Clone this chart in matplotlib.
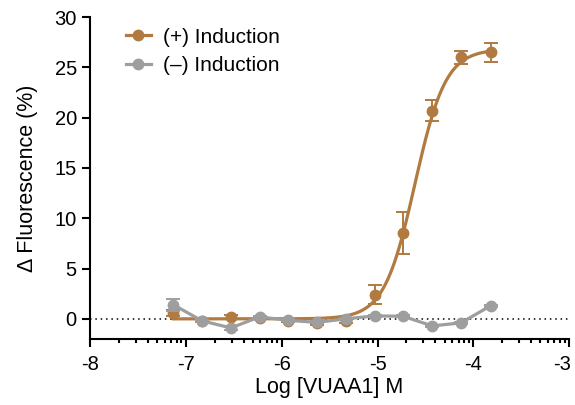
import numpy as np
import matplotlib
matplotlib.use("Agg")
import matplotlib.pyplot as plt
import matplotlib.transforms as mtransforms
from matplotlib.ticker import FixedLocator

plt.rcParams['font.family'] = ['Liberation Sans', 'DejaVu Sans']
plt.rcParams['axes.unicode_minus'] = False

# data
log_conc = [-7.13, -6.83, -6.53, -6.23, -5.93, -5.63, -5.33, -5.03, -4.73, -4.43, -4.13, -3.82]
plus_mean = [0.6, -0.25, 0.2, 0.1, -0.2, -0.45, -0.25, 2.4, 8.5, 20.7, 26.0, 26.5]
plus_err = [0.3, 0.1, 0.2, 0.1, 0.1, 0.2, 0.2, 0.95, 2.1, 1.05, 0.65, 0.95]
minus_mean = [1.4, -0.2, -0.9, 0.2, -0.15, -0.35, 0.0, 0.3, 0.25, -0.7, -0.4, 1.3]
minus_err = [0.6, 0.1, 0.2, 0.1, 0.1, 0.1, 0.1, 0.1, 0.1, 0.1, 0.1, 0.1]

# fitted Hill curve parameters
fit_bottom = 0.0
fit_top = 26.8
fit_logec50 = -4.61
fit_hill = 2.7

orange = '#B07A40'
gray = '#9E9E9E'

fig = plt.figure(figsize=(5.75, 4.05), dpi=100)
ax = fig.add_axes([0.1565, 0.163, 0.8335, 0.795])

xs = np.linspace(log_conc[0], log_conc[-1], 300)
fit = fit_bottom + (fit_top - fit_bottom) / (1 + 10 ** ((fit_logec50 - xs) * fit_hill))

ax.axhline(0, color='black', linestyle=(0, (1, 2.5)), linewidth=1.1, zorder=1)

ax.plot(xs, fit, color=orange, linewidth=2.3, zorder=2)
ax.errorbar(log_conc, plus_mean, yerr=plus_err, fmt='o', color=orange, markersize=7.5,
            elinewidth=1.4, capsize=5, capthick=1.4, zorder=3)
ax.errorbar(log_conc, minus_mean, yerr=minus_err, fmt='-o', color=gray, markersize=7.5,
            linewidth=2.3, elinewidth=1.4, capsize=5, capthick=1.4, zorder=4)

# legend proxies
ax.plot([], [], '-o', color=orange, markersize=7.5, linewidth=2.3, label='(+) Induction')
ax.plot([], [], '-o', color=gray, markersize=7.5, linewidth=2.3, label='(\u2013) Induction')
h, l = ax.get_legend_handles_labels()
ax.legend(h[-2:], l[-2:], loc='upper left', bbox_to_anchor=(0.035, 1.025), frameon=False,
          fontsize=15, handlelength=1.2, handletextpad=0.6, labelspacing=0.45)

ax.set_xlim(-8, -3)
ax.set_ylim(-2, 30)
ax.set_yticks([0, 5, 10, 15, 20, 25, 30])
ax.set_xticks([-8, -7, -6, -5, -4, -3])
minors = [d + np.log10(k) for d in range(-8, -3) for k in range(2, 10)]
ax.xaxis.set_minor_locator(FixedLocator(minors))

for side in ['top', 'right']:
    ax.spines[side].set_visible(False)
for side in ['left', 'bottom']:
    ax.spines[side].set_linewidth(1.5)

ax.tick_params(axis='both', which='major', direction='out', length=5.5, width=1.5, labelsize=14.5)
ax.tick_params(axis='x', which='major', pad=6)
ax.tick_params(axis='y', which='major', pad=4)
ax.tick_params(axis='x', which='minor', direction='out', length=3.2, width=1.5)

# keep the last x label inside the figure
last = ax.get_xticklabels()[-1]
last.set_transform(last.get_transform() + mtransforms.ScaledTranslation(-5 / 72, 0, fig.dpi_scale_trans))

ax.set_xlabel('Log [VUAA1] M', fontsize=15.5, labelpad=2)
ax.set_ylabel('\u0394 Fluorescence (%)', fontsize=15.5, labelpad=12)

fig.savefig('out.png', dpi=100)
